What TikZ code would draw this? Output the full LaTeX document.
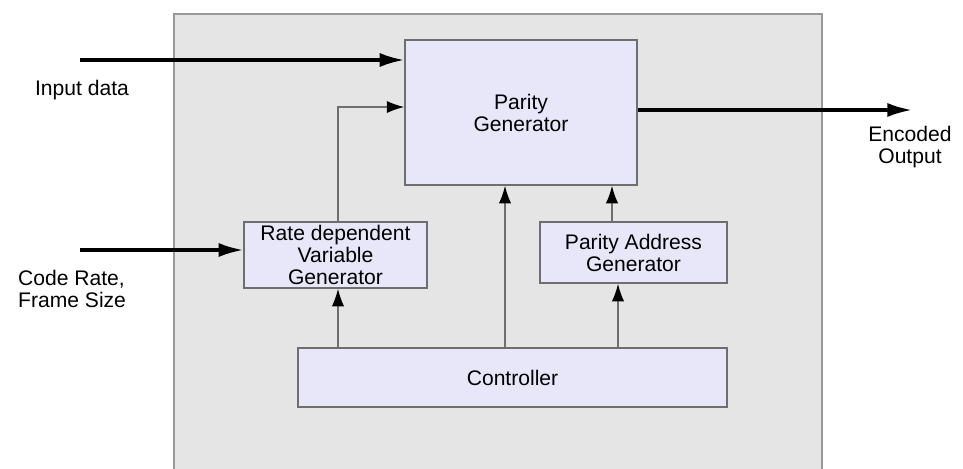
\documentclass[tikz,border=0pt]{standalone}
\usepackage{fontspec}
\setmainfont{Liberation Sans}
\usetikzlibrary{arrows.meta}
\definecolor{panelgray}{RGB}{229,229,229}
\definecolor{boxlilac}{RGB}{231,231,249}
\definecolor{edgegray}{RGB}{110,110,110}

\begin{document}
\begin{tikzpicture}[x=0.02cm,y=-0.02cm,
	block/.style={draw=edgegray,line width=0.8pt,fill=boxlilac,align=center,inner sep=0pt,font=\fontsize{12}{12.5}\selectfont},
	bigarrow/.style={line width=1.8pt,-{Latex[length=14pt,width=8pt]}},
	smallarrow/.style={edgegray,line width=0.9pt,-{Latex[length=10pt,width=7pt,black]}},
	sidetext/.style={font=\fontsize{12}{13}\selectfont,align=left}]
\useasboundingbox (0,0) rectangle (963,468); 
\draw[gray!80,fill=panelgray,line width=0.8pt] (174,14) rectangle (822,470);
\node[block,minimum width=4.64cm,minimum height=2.9cm] (pargen) at (521,112.5) {Parity\\Generator};
\node[block,minimum width=3.66cm,minimum height=1.32cm] (rategen) at (335.5,255) {Rate dependent\\Variable\\Generator};
\node[block,minimum width=3.74cm,minimum height=1.22cm] (addrgen) at (633.5,252.5) {Parity Address\\Generator};
\node[block,minimum width=8.58cm,minimum height=1.18cm] (ctrl) at (512.5,377.5) {Controller};
\node[sidetext] (indata) at (82,90) {Input data};
\node[sidetext,anchor=west] (rate) at (12,289) {Code Rate,\\Frame Size};
\node[sidetext,align=center] (encout) at (910,147) {Encoded\\Output};
\coordinate (in1) at (80,60);
\coordinate (in2) at (80,250);
\coordinate (out) at (912,110);
\draw[bigarrow] (in1) -- (in1 -| pargen.west);
\draw[bigarrow] (in2) -- (in2 -| rategen.west);
\draw[bigarrow] (pargen.east |- out) -- (out);
\draw[smallarrow] ([xshift=0.05cm]rategen.north) |- ([yshift=0.11cm]pargen.west);
\draw[smallarrow] ([xshift=0.05cm]rategen.south |- ctrl.north) -- ([xshift=0.05cm]rategen.south);
\draw[smallarrow] ([xshift=-0.15cm]ctrl.north) -- ([xshift=-0.15cm]ctrl.north |- pargen.south);
\draw[smallarrow] ([xshift=-0.31cm]addrgen.south |- ctrl.north) -- ([xshift=-0.31cm]addrgen.south);
\draw[smallarrow] ([xshift=-0.43cm]addrgen.north) -- ([xshift=-0.43cm]addrgen.north |- pargen.south);
\end{tikzpicture}
\end{document}
